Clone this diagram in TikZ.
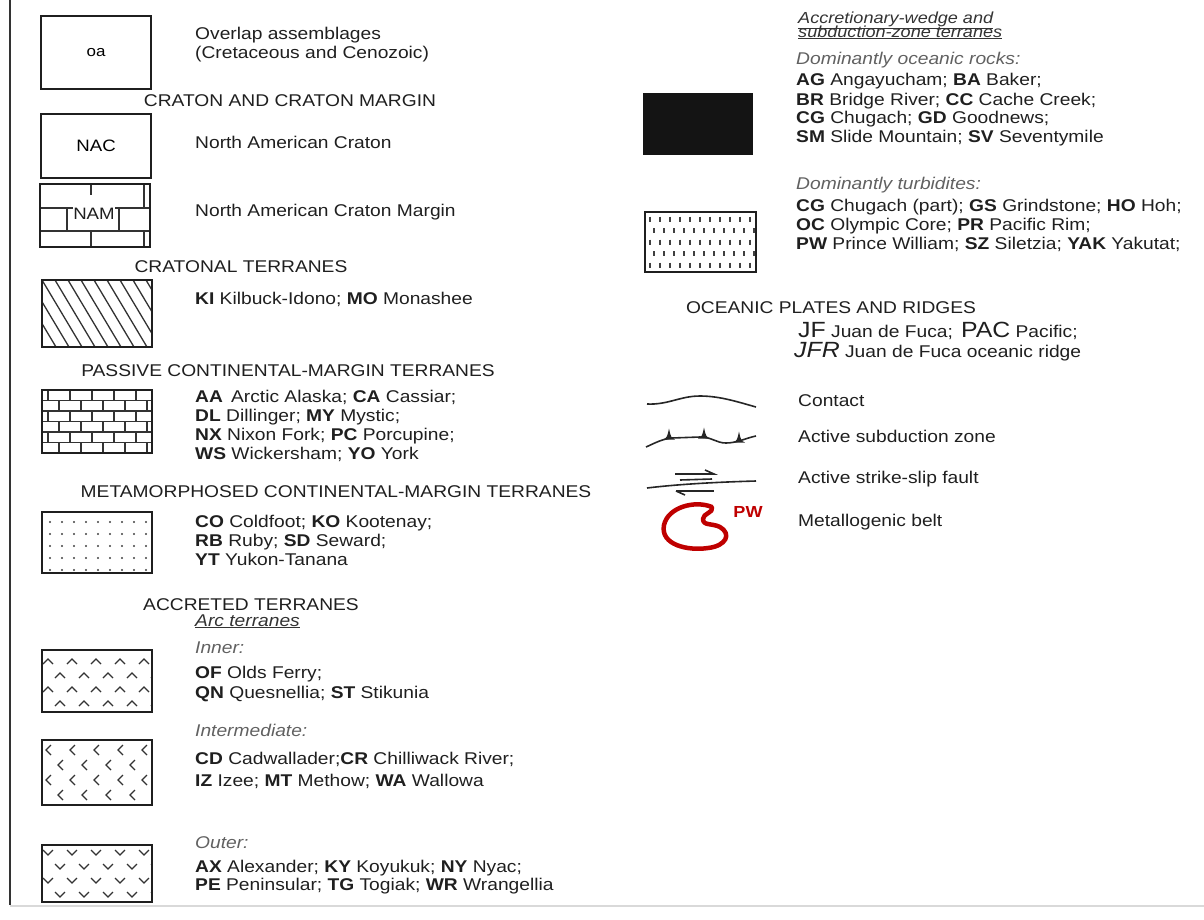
\documentclass[tikz,border=0pt]{standalone}
\usepackage{fontspec}
\setmainfont{Liberation Sans}[FakeStretch=1.13]
\begin{document}
\begin{tikzpicture}[x=1pt,y=-1pt,
 box/.style={draw=black!88, line width=2.2pt},
 body/.style={font=\fontsize{17}{19}\selectfont, anchor=base west, inner sep=0pt, text=black!88},
 small/.style={font=\fontsize{16}{16}\selectfont\itshape, anchor=base west, inner sep=0pt, text=black!80},
 subh/.style={font=\fontsize{17}{19}\selectfont\itshape, anchor=base west, inner sep=0pt, text=black!62},
 head/.style={font=\fontsize{17}{20}\selectfont, anchor=base, inner sep=0pt, text=black!88},
 pat/.style={line width=1.3pt, draw=black!80},
 belt/.style={draw=red!75!black, line width=4.5pt, line join=round},
 sym/.style={line width=1.6pt, draw=black!85}]
\useasboundingbox (0,0) rectangle (1204,919);
\newcommand\legline[4]{\node[body] (#1) at (#2,#3) {#4};}
% frame
\draw[line width=2.6pt, black!80] (10,0) -- (10,905);
\draw[line width=1.2pt, black!15] (10,906) -- (1204,906);

% ---------- left column ----------
\node[box, minimum width=110pt, minimum height=73pt, anchor=north west, font=\fontsize{15}{15}\selectfont] (oa) at (40,15) {oa};
\legline{oa1}{195}{39}{Overlap assemblages}
\legline{oa2}{195}{58}{(Cretaceous and Cenozoic)}

\node[head] (h1) at (290,106) {CRATON AND CRATON MARGIN};

\node[box, minimum width=110pt, minimum height=64pt, anchor=north west, font=\fontsize{16.5}{16}\selectfont] (nac) at (40,113) {NAC};
\legline{nac1}{195}{148}{North American Craton}

% NAM brick box
\coordinate (namA) at (40,184);
\coordinate (namB) at (150,247);
\begin{scope}[pat, line width=1.5pt]
 \draw (40,208) -- (73,208);
 \draw (115,208) -- (150,208);
 \draw (40,231) -- (150,231);
 \draw (91,184) -- (91,195);
 \draw (144,184) -- (144,208);
 \draw (67,208) -- (67,231);
 \draw (119,208) -- (119,231);
 \draw (91,231) -- (91,247);
 \draw (144,231) -- (144,247);
\end{scope}
\draw[box] (namA) rectangle (namB);
\node[font=\fontsize{16.5}{16}\selectfont, text=black!88, inner sep=1pt] (nam) at (94,214) {NAM};
\legline{nam1}{195}{216}{North American Craton Margin}

\node[head] (h2) at (241,272) {CRATONAL TERRANES};

% KI hatched box
\begin{scope}
 \clip (42,280) rectangle (152,347);
 \foreach \i in {-4,...,9} \draw[pat] (42+\i*13,280) -- (82+\i*13,347);
\end{scope}
\draw[box] (42,280) rectangle (152,347);
\legline{ki1}{195}{304}{\textbf{KI} Kilbuck-Idono; \textbf{MO} Monashee}

\node[head] (h3) at (288,376) {PASSIVE CONTINENTAL-MARGIN TERRANES};

% brick box
\begin{scope}
 \clip (42,390) rectangle (152,453);
 \foreach \r in {1,...,5} \draw[pat] (42,390+\r*10.5) -- (152,390+\r*10.5);
 \foreach \r in {0,...,5} {
   \pgfmathsetmacro\off{mod(\r,2)*11}
   \foreach \k in {0,...,5}
     \draw[pat] (42+\off+\k*22+6,390+\r*10.5) -- (42+\off+\k*22+6,400.5+\r*10.5);
 }
\end{scope}
\draw[box] (42,390) rectangle (152,453);
\legline{pa1}{195}{402}{\textbf{AA}\, Arctic Alaska; \textbf{CA} Cassiar;}
\legline{pa2}{195}{421}{\textbf{DL} Dillinger; \textbf{MY} Mystic;}
\legline{pa3}{195}{440}{\textbf{NX} Nixon Fork; \textbf{PC} Porcupine;}
\legline{pa4}{195}{459}{\textbf{WS} Wickersham; \textbf{YO} York}

\node[head] (h4) at (336,497) {METAMORPHOSED CONTINENTAL-MARGIN TERRANES};

% dotted box
\begin{scope}
 \clip (42,512) rectangle (152,573);
 \foreach \r in {0,...,4}
   \foreach \c in {0,...,8}
     \fill[black!75] (50+\c*12,522+\r*12) circle (1.2);
\end{scope}
\draw[box] (42,512) rectangle (152,573);
\legline{me1}{195}{527}{\textbf{CO} Coldfoot; \textbf{KO} Kootenay;}
\legline{me2}{195}{546}{\textbf{RB} Ruby; \textbf{SD} Seward;}
\legline{me3}{195}{565}{\textbf{YT} Yukon-Tanana}

\node[head] (h5) at (251,610) {ACCRETED TERRANES};
\node[subh, text=black!80] (arc) at (195,626) {\underline{Arc terranes}};
\node[subh] (inner) at (195,653) {Inner:};

% inner box (^)
\begin{scope}
 \clip (42,650) rectangle (152,712);
 \foreach \r in {0,...,3}
   \foreach \c in {0,...,4} {
     \pgfmathsetmacro\xx{54+\c*24+mod(\r,2)*12-6}
     \pgfmathsetmacro\yy{661+\r*14}
     \draw[pat] (\xx-5,\yy+3) -- (\xx,\yy-2) -- (\xx+5,\yy+3);
   }
\end{scope}
\draw[box] (42,650) rectangle (152,712);
\legline{in1}{195}{678}{\textbf{OF} Olds Ferry;}
\legline{in2}{195}{698}{\textbf{QN} Quesnellia; \textbf{ST} Stikunia}

\node[subh] (interm) at (195,736) {Intermediate:};
% intermediate box (<)
\begin{scope}
 \clip (42,740) rectangle (152,805);
 \foreach \r in {0,...,3}
   \foreach \c in {0,...,4} {
     \pgfmathsetmacro\xx{54+\c*24+mod(\r,2)*12-6}
     \pgfmathsetmacro\yy{750+\r*15}
     \draw[pat] (\xx+3,\yy-5) -- (\xx-2,\yy) -- (\xx+3,\yy+5);
   }
\end{scope}
\draw[box] (42,740) rectangle (152,805);
\legline{im1}{195}{764}{\textbf{CD} Cadwallader;\textbf{CR} Chilliwack River;}
\legline{im2}{195}{786}{\textbf{IZ} Izee; \textbf{MT} Methow; \textbf{WA} Wallowa}

\node[subh] (outer) at (195,848) {Outer:};
% outer box (v)
\begin{scope}
 \clip (42,845) rectangle (152,902);
 \foreach \r in {0,...,3}
   \foreach \c in {0,...,4} {
     \pgfmathsetmacro\xx{54+\c*24+mod(\r,2)*12-6}
     \pgfmathsetmacro\yy{853+\r*14}
     \draw[pat] (\xx-5,\yy-3) -- (\xx,\yy+2) -- (\xx+5,\yy-3);
   }
\end{scope}
\draw[box] (42,845) rectangle (152,902);
\legline{ou1}{195}{872}{\textbf{AX} Alexander; \textbf{KY} Koyukuk; \textbf{NY} Nyac;}
\legline{ou2}{195}{890}{\textbf{PE} Peninsular; \textbf{TG} Togiak; \textbf{WR} Wrangellia}

% ---------- right column ----------
\node[small] (acc1) at (798,23) {\underline{Accretionary-wedge and}};
\node[small] (acc2) at (798,37) {\underline{subduction-zone terranes}};
\node[subh] (domo) at (796,64) {Dominantly oceanic rocks:};
\fill[black!92] (643,93) rectangle (753,155);
\node[inner sep=0pt, minimum width=110pt, minimum height=62pt, anchor=north west] (blk) at (643,93) {};
\legline{oc1}{796}{85}{\textbf{AG} Angayucham; \textbf{BA} Baker;}
\legline{oc2}{796}{105}{\textbf{BR} Bridge River; \textbf{CC} Cache Creek;}
\legline{oc3}{796}{123}{\textbf{CG} Chugach; \textbf{GD} Goodnews;}
\legline{oc4}{796}{142}{\textbf{SM} Slide Mountain; \textbf{SV} Seventymile}

\node[subh] (domt) at (796,189) {Dominantly turbidites:};
% turbidite box
\begin{scope}
 \clip (645,212) rectangle (756,272);
 \foreach \r in {0,...,4}
   \foreach \c in {0,...,10} {
     \pgfmathsetmacro\xx{650+\c*10+mod(\r,2)*4}
     \pgfmathsetmacro\yy{219+\r*11.5}
     \draw[line width=1.2pt, black!75] (\xx,\yy-2.5) -- (\xx,\yy+2.5);
   }
\end{scope}
\draw[box] (645,212) rectangle (756,272);
\legline{tu1}{796}{211}{\textbf{CG} Chugach (part); \textbf{GS} Grindstone; \textbf{HO} Hoh;}
\legline{tu2}{796}{230}{\textbf{OC} Olympic Core; \textbf{PR} Pacific Rim;}
\legline{tu3}{796}{249}{\textbf{PW} Prince William; \textbf{SZ} Siletzia; \textbf{YAK} Yakutat;}

\node[head] (h6) at (831,313) {OCEANIC PLATES AND RIDGES};
\node[body] (jf) at (798,337) {{\fontsize{22}{22}\selectfont JF} Juan de Fuca;\, {\fontsize{22}{22}\selectfont PAC} Pacific;};
\node[body] (jfr) at (794,357) {{\fontsize{22}{22}\selectfont\itshape JFR} Juan de Fuca oceanic ridge};

% contact
\coordinate (c1) at (647,404);
\coordinate (c2) at (756,407);
\draw[sym] (c1) .. controls (668,405) and (680,396) .. (700,396) .. controls (720,396) and (738,402) .. (c2);
\legline{ct}{798}{406}{Contact}

% subduction
\coordinate (s1) at (646,447);
\coordinate (s2) at (756,436);
\draw[sym] (s1) .. controls (655,443) and (662,439) .. (672,438) -- (700,437) .. controls (712,437) and (716,443) .. (726,443) .. controls (737,443) and (746,438) .. (s2);
\foreach \tx/\ty in {669/438.5, 704/437.5, 739/441.5}
  \fill[black!85] (\tx-6,\ty+1) .. controls (\tx-2,\ty-1) .. (\tx,\ty-10) .. controls (\tx+2,\ty-1) .. (\tx+6,\ty+1) -- cycle;
\legline{sz}{798}{442}{Active subduction zone}

% strike-slip
\coordinate (f1) at (647,488);
\coordinate (f2) at (756,481);
\draw[sym] (f1) .. controls (680,484) and (720,482) .. (f2);
\draw[sym] (675,474) -- (714,474) -- (705,470);
\draw[sym] (680,480) -- (712,479);
\draw[sym] (676,491) -- (714,491);
\draw[sym] (676,491) -- (685,495);
\legline{ss}{798}{483}{Active strike-slip fault}

% metallogenic belt
\draw[belt] (712,507) .. controls (695,500) and (668,507) .. (664,525)
  .. controls (660,545) and (688,551) .. (708,548)
  .. controls (726,546) and (732,534) .. (720,527)
  .. controls (712,523) and (703,526) .. (703,519)
  .. controls (703,513) and (714,513) .. (712,507) -- cycle;
\node[font=\bfseries\fontsize{16}{16}\selectfont, text=red!75!black, inner sep=0pt] (pw) at (748,512) {PW};
\legline{mb}{798}{526}{Metallogenic belt}
\end{tikzpicture}
\end{document}
